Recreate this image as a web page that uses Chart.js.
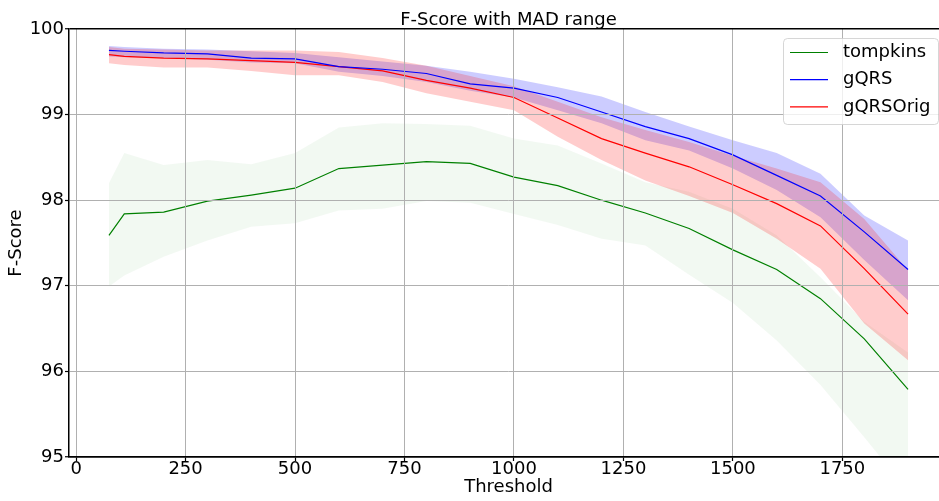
<!DOCTYPE html>
<html>
<head>
<meta charset="utf-8">
<script src="https://cdn.jsdelivr.net/npm/chart.js@4.4.0/dist/chart.umd.min.js"></script>
<style>
  html, body { margin: 0; padding: 0; background: #fff; overflow: hidden; }
  #wrap { position: relative; width: 948px; height: 501px; }
</style>
</head>
<body>
<div id="wrap"><canvas id="fscoreChart"></canvas></div>
<script>
// thresholds on the x axis
const thresholds = [75, 110, 200, 300, 400, 500, 600, 700, 800, 900, 1000, 1100, 1200, 1300, 1400, 1500, 1600, 1700, 1800, 1900];

// median F-score per detector
const tompkins = [97.59, 97.84, 97.86, 97.99, 98.06, 98.14, 98.37, 98.41, 98.45, 98.43, 98.27, 98.17, 98.00, 97.85, 97.67, 97.42, 97.19, 96.85, 96.38, 95.79];
const gqrs = [99.75, 99.74, 99.72, 99.71, 99.66, 99.65, 99.56, 99.53, 99.48, 99.36, 99.31, 99.20, 99.03, 98.86, 98.72, 98.53, 98.29, 98.05, 97.63, 97.19];
const gqrsOrig = [99.70, 99.68, 99.66, 99.65, 99.63, 99.61, 99.56, 99.51, 99.40, 99.31, 99.20, 98.96, 98.72, 98.55, 98.39, 98.18, 97.96, 97.70, 97.20, 96.67];

// MAD range (upper / lower)
const tompkinsHi = [98.20, 98.55, 98.41, 98.47, 98.42, 98.55, 98.85, 98.90, 98.89, 98.87, 98.72, 98.64, 98.43, 98.21, 98.10, 97.90, 97.59, 97.10, 96.58, 96.22];
const tompkinsLo = [96.99, 97.12, 97.34, 97.53, 97.69, 97.73, 97.88, 97.90, 97.99, 97.97, 97.84, 97.71, 97.55, 97.47, 97.13, 96.80, 96.36, 95.84, 95.23, 94.60];
const gqrsHi = [99.80, 99.79, 99.77, 99.76, 99.74, 99.72, 99.67, 99.62, 99.57, 99.50, 99.42, 99.32, 99.21, 99.03, 98.86, 98.70, 98.55, 98.31, 97.82, 97.53];
const gqrsLo = [99.68, 99.67, 99.66, 99.64, 99.61, 99.60, 99.50, 99.45, 99.38, 99.28, 99.20, 99.05, 98.90, 98.70, 98.58, 98.37, 98.12, 97.80, 97.30, 96.83];
const gqrsOrigHi = [99.79, 99.77, 99.76, 99.75, 99.75, 99.75, 99.73, 99.66, 99.57, 99.45, 99.33, 99.15, 98.97, 98.82, 98.68, 98.52, 98.37, 98.21, 97.78, 97.18];
const gqrsOrigLo = [99.60, 99.58, 99.55, 99.55, 99.51, 99.46, 99.46, 99.38, 99.25, 99.15, 99.05, 98.74, 98.47, 98.23, 98.05, 97.85, 97.55, 97.20, 96.56, 96.13];

const xTicks = [0, 250, 500, 750, 1000, 1250, 1500, 1750];
const yTicks = [95, 96, 97, 98, 99, 100];

const pts = vals => vals.map((v, i) => ({ x: thresholds[i], y: v }));
const gridColor = '#b0b0b0';

Chart.defaults.font.family = '"DejaVu Sans", sans-serif';
Chart.defaults.font.size = 18;
Chart.defaults.color = '#000';

function lineSet(label, vals, color) {
    return {
        label: label,
        data: pts(vals),
        borderColor: color,
        borderWidth: 1.2,
        fill: false,
        order: 0,
        inLegend: true
    };
}

function bandSet(label, vals, color, order, fill) {
    return {
        label: label,
        data: pts(vals),
        borderWidth: 0,
        borderColor: 'rgba(0,0,0,0)',
        backgroundColor: color,
        fill: fill,
        order: order
    };
}

// legend drawn inside the plot, upper right
const legendBox = {
    id: 'legendBox',
    afterDraw(chart) {
        const c = chart.ctx;
        const items = chart.data.datasets.filter(d => d.inLegend);
        const x = 783, y = 38, w = 155, h = 86;
        c.save();
        c.beginPath();
        c.roundRect(x + 0.5, y + 0.5, w, h, 4);
        c.fillStyle = 'rgba(255,255,255,0.8)';
        c.fill();
        c.strokeStyle = 'rgba(204,204,204,0.8)';
        c.lineWidth = 1;
        c.stroke();
        c.font = '18px "DejaVu Sans"';
        c.textBaseline = 'middle';
        items.forEach((d, i) => {
            const ry = y + 14.5 + i * 27.2;
            c.strokeStyle = d.borderColor;
            c.lineWidth = d.borderWidth;
            c.beginPath();
            c.moveTo(790, ry);
            c.lineTo(828, ry);
            c.stroke();
            c.fillStyle = '#000';
            c.fillText(d.label, 843, ry);
        });
        c.restore();
    }
};

const ctx = document.getElementById('fscoreChart').getContext('2d');
new Chart(ctx, {
    type: 'line',
    data: {
        datasets: [
            lineSet('tompkins', tompkins, '#008000'),
            lineSet('gQRS', gqrs, '#0000ff'),
            lineSet('gQRSOrig', gqrsOrig, '#ff0000'),
            bandSet('tompkins MAD', tompkinsHi, 'rgba(0,128,0,0.05)', 3, '+1'),
            bandSet('tompkins MAD low', tompkinsLo, 'rgba(0,0,0,0)', 3, false),
            bandSet('gQRS MAD', gqrsHi, 'rgba(0,0,255,0.2)', 2, '+1'),
            bandSet('gQRS MAD low', gqrsLo, 'rgba(0,0,0,0)', 2, false),
            bandSet('gQRSOrig MAD', gqrsOrigHi, 'rgba(255,0,0,0.2)', 1, '+1'),
            bandSet('gQRSOrig MAD low', gqrsOrigLo, 'rgba(0,0,0,0)', 1, false)
        ]
    },
    options: {
        responsive: true,
        maintainAspectRatio: false,
        animation: false,
        layout: { padding: 0 },
        elements: { point: { radius: 0, hoverRadius: 0 }, line: { tension: 0 } },
        plugins: {
            legend: { display: false },
            tooltip: { enabled: false },
            title: {
                display: true,
                text: 'F-Score with MAD range',
                fullSize: false,
                color: '#000',
                font: { size: 18, weight: 'normal', lineHeight: 1 },
                padding: { top: 11, bottom: 0 }
            }
        },
        scales: {
            x: {
                type: 'linear',
                min: -16.25,
                max: 1991.25,
                afterBuildTicks: s => { s.ticks = xTicks.map(v => ({ value: v })); },
                afterFit: s => { s.height = 44; },
                ticks: {
                    font: { size: 18, lineHeight: 1 },
                    padding: -1,
                    maxRotation: 0,
                    callback: v => String(v)
                },
                grid: {
                    color: gridColor,
                    lineWidth: 1,
                    tickLength: 4,
                    tickColor: '#000',
                    tickWidth: 1.2,
                    z: 1
                },
                border: { color: '#000', width: 1.5, z: 1 },
                title: {
                    display: true,
                    text: 'Threshold',
                    font: { size: 18, lineHeight: 1.2 },
                    padding: { top: 0, bottom: 3 }
                }
            },
            y: {
                min: 95,
                max: 100,
                afterBuildTicks: s => { s.ticks = yTicks.map(v => ({ value: v })); },
                afterFit: s => { s.width = 69; },
                ticks: {
                    font: { size: 18, lineHeight: 1 },
                    padding: 1,
                    callback: v => String(v)
                },
                grid: {
                    color: c => (c.tick && (c.tick.value === 100 || c.tick.value === 95)) ? '#000' : gridColor,
                    lineWidth: c => (c.tick && (c.tick.value === 100 || c.tick.value === 95)) ? 1.5 : 1,
                    tickLength: 4,
                    tickColor: '#000',
                    tickWidth: 1.2,
                    z: 1
                },
                border: { color: '#000', width: 1.5, z: 1 },
                title: {
                    display: true,
                    text: 'F-Score',
                    font: { size: 18, lineHeight: 1.2 },
                    padding: { top: 6, bottom: 0 }
                }
            }
        }
    },
    plugins: [legendBox]
});
</script>
</body>
</html>
